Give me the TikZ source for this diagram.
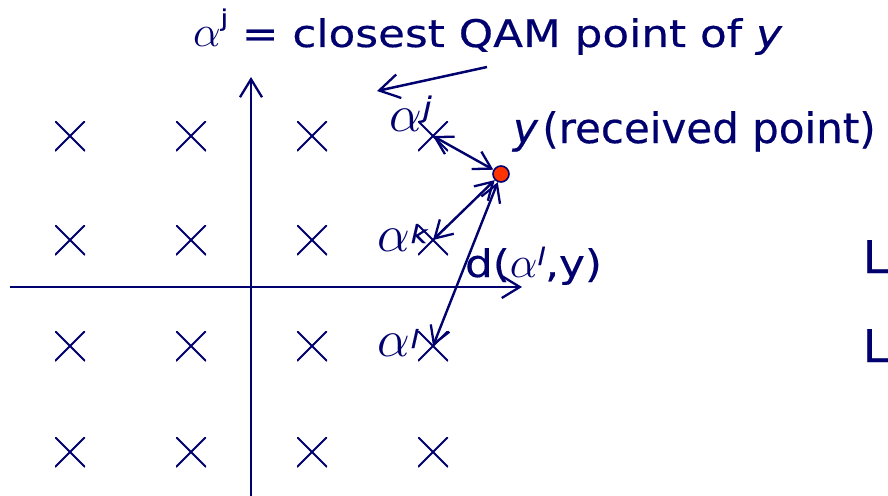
\RequirePackage{fix-cm}
\documentclass[tikz,border=0pt]{standalone}
\usepackage{fontspec}
\setmainfont{DejaVu Sans}
\newfontfamily\tsans[FakeStretch=1.15,FakeBold=0.4]{DejaVu Sans}
\newfontfamily\ysans[FakeBold=0.4]{DejaVu Sans}
\usetikzlibrary{arrows.meta}
\definecolor{navy}{RGB}{0,0,110}
\definecolor{dotred}{RGB}{255,51,0}
\newcommand{\fsz}[1]{\fontsize{#1}{#1}\selectfont}
\newcommand{\alp}[1]{{\fsz{#1}$\alpha$}}
\tikzset{
  txt/.style={inner sep=0pt, outer sep=0pt, text=navy, font=\tsans\fsz{38}},
  xmark/.style={minimum size=30pt, inner sep=0pt, outer sep=0pt,
    path picture={\draw[line width=2pt, navy]
      (path picture bounding box.south west) -- (path picture bounding box.north east)
      (path picture bounding box.north west) -- (path picture bounding box.south east);}},
  axisline/.style={draw=navy, line width=2.6pt, -{Straight Barb[length=18pt,width=22pt,line width=2.3pt]}},
  arr/.style={draw=navy, line width=2.5pt, -{Straight Barb[length=20pt,width=24pt,line width=2.3pt]}},
  dbl/.style={draw=navy, line width=2.4pt, {Straight Barb[length=17pt,width=20pt,line width=2.3pt]}-{Straight Barb[length=17pt,width=20pt,line width=2.3pt]}},
  rxdot/.style={circle, minimum size=16pt, inner sep=0pt, fill=dotred, draw=navy, line width=1.6pt},
}
\begin{document}
\begin{tikzpicture}[x=1pt,y=-1pt]
\useasboundingbox (0,0) rectangle (888,495);
% constellation crosses
\foreach \cx/\xv in {1/70,2/191,3/312,4/433}{
  \foreach \cy/\yv in {1/136,2/240,3/346,4/452}{
    \node[xmark] (c\cx\cy) at (\xv,\yv) {};
  }
}
% axes
\coordinate (xl) at (10,287);
\coordinate (xr) at (522,287);
\coordinate (yb) at (251,497);
\coordinate (yt) at (251,77);
\draw[axisline] (xl) -- (xr);
\draw[axisline] (yb) -- (yt);
% received point
\node[rxdot] (y) at (501,174) {};
% distance arrows
\draw[dbl] (c41.center) -- (y);
\draw[dbl] (c42.center) -- (y);
\draw[dbl] (c43.center) -- (y);
% title arrow
\coordinate (t1) at (487,67);
\coordinate (t2) at (377,91);
\draw[arr] (t1) -- (t2);
% texts
\node[txt, anchor=base west] (title) at (193,47)
  {\alp{44}\raisebox{21pt}{\fsz{23}j} = closest QAM point of \textit{y}};
\node[txt, anchor=base west] (lj) at (389,131)
  {\alp{52}\hspace{1pt}\raisebox{14pt}{\fsz{28}\itshape j}};
\node[txt, anchor=base west] (lk) at (377,251)
  {\alp{52}\hspace{1pt}\raisebox{8pt}{\fsz{25}\itshape k}};
\node[txt, anchor=base west] (ll) at (377,356)
  {\alp{52}\hspace{1pt}\raisebox{8pt}{\fsz{25}\itshape l}};
\node[txt, anchor=base west, font=\ysans\fsz{42}] (ylab) at (513,143)
  {\textit{y}\hspace{4pt}(received point)};
\node[txt, anchor=base west, font=\tsans\fsz{38}] (dlab) at (465,277)
  {d(\alp{44}\raisebox{12pt}{\fsz{24}\itshape l},y)};
\node[txt, anchor=base west, font=\ysans\fsz{45}] (L1) at (863,273) {L};
\node[txt, anchor=base west, font=\ysans\fsz{45}] (L2) at (863,362) {L};
\end{tikzpicture}
\end{document}
